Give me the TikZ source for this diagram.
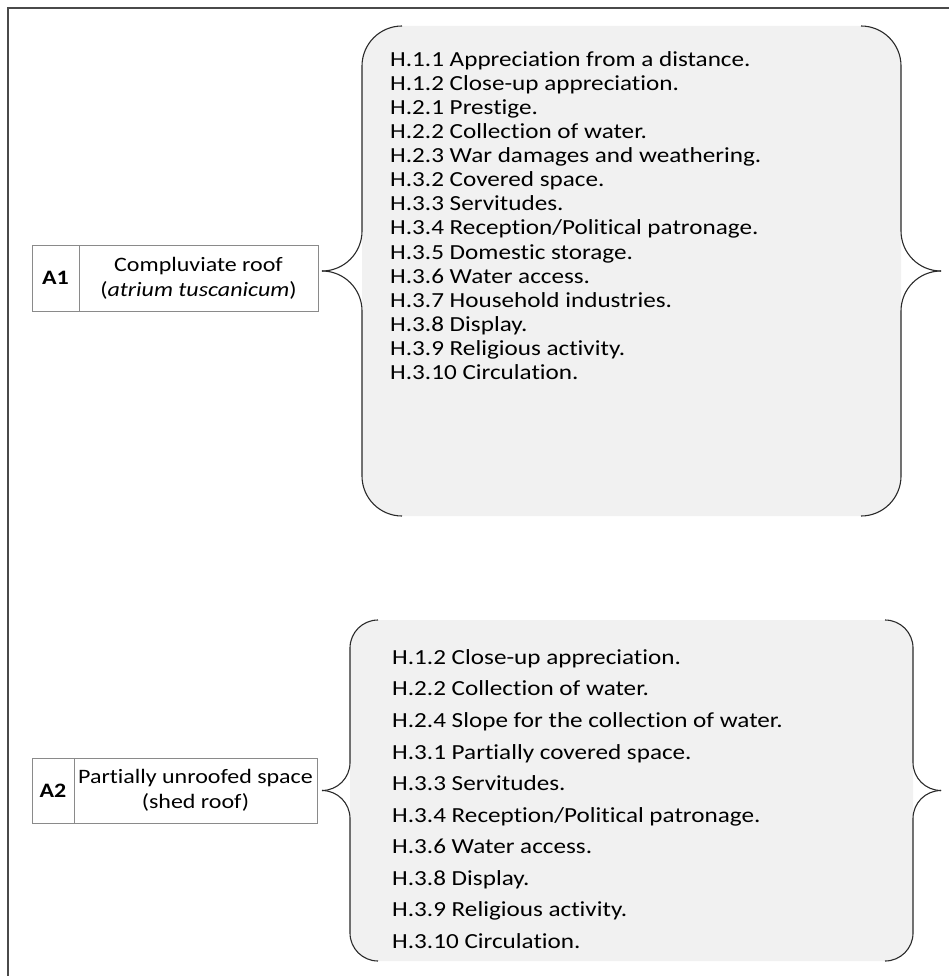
\documentclass[tikz,border=0pt]{standalone}
\usepackage{fontspec}
\setmainfont{Carlito}[FakeStretch=1.17,Ligatures={NoCommon}]
\definecolor{bracefill}{HTML}{F1F1F1}
\definecolor{framecol}{HTML}{4A4A4A}
\definecolor{boxcol}{HTML}{8A8A8A}
\definecolor{bracecol}{HTML}{2A2A2A}
\begin{document}
\begin{tikzpicture}[x=1pt,y=-1pt,
  item/.style={anchor=mid west, inner sep=0pt, font=\fontsize{21.5}{24}\selectfont},
  idcell/.style={draw=boxcol, line width=0.9pt, inner sep=0pt, minimum height=66pt, font=\fontsize{20.5}{25}\selectfont\bfseries},
  txtcell/.style={draw=boxcol, line width=0.9pt, inner sep=0pt, minimum height=66pt, align=center, font=\fontsize{20.5}{25}\selectfont},
  bracestroke/.style={draw=bracecol, line width=1.1pt}]
\useasboundingbox (0,0) rectangle (949,976);
\begin{scope}
\clip (0,0) rectangle (949,976);
\draw[framecol, line width=1.6pt] (8,990) -- (8,8) -- (960,8);
% brace 1
\fill[bracefill, rounded corners=40pt] (362,26) rectangle (901,516);
\draw[bracestroke, rounded corners=40pt] (322,271) -- (362,271) -- (362,26) -- (402,26);
\draw[bracestroke, rounded corners=40pt] (322,271) -- (362,271) -- (362,516) -- (402,516);
\draw[bracestroke, rounded corners=40pt] (941,271) -- (901,271) -- (901,26) -- (861,26);
\draw[bracestroke, rounded corners=40pt] (941,271) -- (901,271) -- (901,516) -- (861,516);
% brace 2
\fill[bracefill, rounded corners=28pt] (350,620) rectangle (913,961);
\draw[bracestroke, rounded corners=28pt] (322,790.5) -- (350,790.5) -- (350,620) -- (378,620);
\draw[bracestroke, rounded corners=28pt] (322,790.5) -- (350,790.5) -- (350,961) -- (378,961);
\draw[bracestroke, rounded corners=28pt] (941,790.5) -- (913,790.5) -- (913,620) -- (885,620);
\draw[bracestroke, rounded corners=28pt] (941,790.5) -- (913,790.5) -- (913,961) -- (885,961);
\end{scope}
% list 1
\foreach \t [count=\i] in {H.1.1 Appreciation from a distance.,H.1.2 Close-up appreciation.,H.2.1 Prestige.,H.2.2 Collection of water.,H.2.3 War damages and weathering.,H.3.2 Covered space.,H.3.3 Servitudes.,H.3.4 Reception/Political patronage.,H.3.5 Domestic storage.,H.3.6 Water access.,H.3.7 Household industries.,H.3.8 Display.,H.3.9 Religious activity.,H.3.10 Circulation.}
  \node[item] (p\i) at (390,{64+(\i-1)*24.08}) {\t};
% list 2
\foreach \t [count=\i] in {H.1.2 Close-up appreciation.,H.2.2 Collection of water.,H.2.4 Slope for the collection of water.,H.3.1 Partially covered space.,H.3.3 Servitudes.,H.3.4 Reception/Political patronage.,H.3.6 Water access.,H.3.8 Display.,H.3.9 Religious activity.,H.3.10 Circulation.}
  \node[item] (q\i) at (392,{662+(\i-1)*31.56}) {\t};
% boxes
\node[idcell, minimum width=47pt] (a1id) at (55.5,278) {A1};
\node[txtcell, minimum width=239pt] (a1txt) at (198.5,278) {Compluviate roof\\(\textit{atrium tuscanicum})};
\node[idcell, minimum width=42pt, minimum height=65pt] (a2id) at (53,790.5) {A2};
\node[txtcell, minimum width=243pt, minimum height=65pt] (a2txt) at (195.5,790.5) {Partially unroofed space\\(shed roof)};
\end{tikzpicture}
\end{document}
